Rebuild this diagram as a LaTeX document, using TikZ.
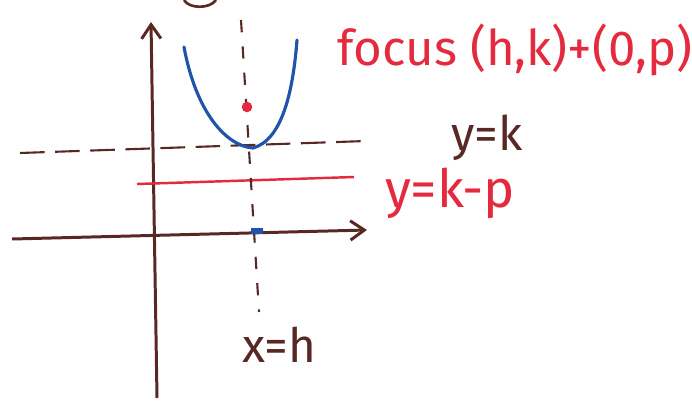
\documentclass[tikz,border=0pt]{standalone}
\usepackage{fontspec}
\setmainfont{Fira Sans}
\usetikzlibrary{arrows.meta,positioning}
\definecolor{penbrown}{RGB}{88,40,36}
\definecolor{penred}{RGB}{228,42,62}
\definecolor{penblue}{RGB}{32,84,170}

\begin{document}
\begin{tikzpicture}[
        x=0.02cm, y=-0.02cm,
        axisline/.style={penbrown, line width=1.7pt, -{Straight Barb[length=8pt,width=11pt]}},
        hdash/.style={penbrown, line width=1.2pt, dash pattern=on 14pt off 6pt},
        vdash/.style={penbrown, line width=1.2pt, dash pattern=on 7pt off 8pt},
        curve/.style={penblue, line width=1.8pt, line cap=round},
        fdot/.style={circle, fill, inner sep=0pt, minimum size=6pt},
        hand/.style={font=\fontsize{27}{31}\selectfont, inner sep=0pt}
    ]
    % --- Khung ---
    \useasboundingbox (0,0) rectangle (692,406);

    % --- Truc toa do ---
    \coordinate (ybot) at (157,398);
    \coordinate (ytop) at (151,22);
    \coordinate (xleft) at (12,239);
    \coordinate (xright) at (367,230);
    \draw[axisline] (ybot) -- (ytop);
    \draw[axisline] (xleft) -- (xright);

    % --- Duong y=k va y=k-p ---
    \coordinate (kleft) at (20,153);
    \coordinate (kright) at (366,141);
    \draw[hdash] (kleft) -- (kright);
    \coordinate (pleft) at (137,184);
    \coordinate (pright) at (354,177);
    \draw[penred, line width=1.4pt] (pleft) -- (pright);

    % --- Truc doi xung x=h ---
    \coordinate (htop) at (241,20);
    \coordinate (hbot) at (259,312);
    \draw[vdash] (htop) -- (hbot);

    % --- Parabol ---
    \coordinate (armL) at (184,47);
    \coordinate (vertex) at (253,148);
    \coordinate (armR) at (297,40);
    \draw[curve] (armL) .. controls (196,112) and (226,146) .. (vertex)
        .. controls (282,140) and (293,92) .. (armR);
    \node (focus) [fdot, penred] at (247,107) {};
    \node (foot) [penblue, fill, inner sep=0pt, minimum width=7pt, minimum height=3pt] at (257,231) {};

    % --- Chu ---
    \node (focuslbl) [hand, penred, font=\fontsize{28}{32}\selectfont] at (515,50) {focus (h,k)+(0,p)};
    \node (yk) [hand, penbrown] at (487,138) {y=k};
    \node (ykp) [hand, penred, font=\fontsize{30}{34}\selectfont] at (450,193) {y=k-p};
    \node (xh) [hand, penbrown] at (279,345) {x=h};
    \draw[penbrown, line width=1.5pt] (184,0) .. controls (189,9) and (210,9) .. (216,0);
\end{tikzpicture}
\end{document}
